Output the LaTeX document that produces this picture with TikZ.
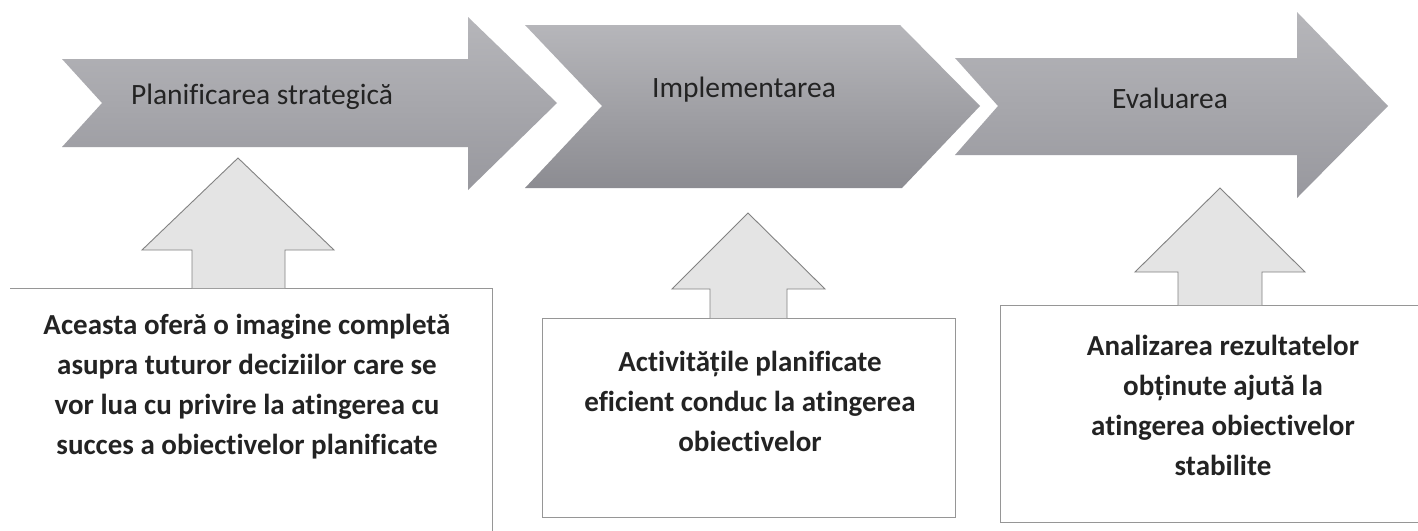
\documentclass[tikz,border=0pt]{standalone}
\usepackage{fontspec}
\setmainfont{Carlito}[RawFeature={-liga;-clig;-calt;-dlig}]
\definecolor{arrtop}{RGB}{182,182,186}
\definecolor{arrbot}{RGB}{152,152,158}
\definecolor{upfill}{RGB}{228,228,228}
\definecolor{upline}{RGB}{130,130,130}
\definecolor{boxline}{RGB}{150,150,150}
\definecolor{txt}{RGB}{35,35,35}
\tikzset{
  bigarrow/.style={top color=arrtop, bottom color=arrbot, draw=none},
  uparrow/.style={fill=upfill, draw=upline, line width=0.9pt, line join=miter},
  boxedge/.style={draw=boxline, line width=1pt},
  title/.style={font=\fontsize{29.5}{34}\selectfont, text=txt, inner sep=0pt},
  desc/.style={font=\bfseries\fontsize{29}{40}\selectfont, text=txt, align=center, inner sep=0pt}
}
\begin{document}
\begin{tikzpicture}[x=1pt,y=-1pt]
\useasboundingbox (0,0) rectangle (1418,530);
\clip (0,0) rectangle (1418,530);
\fill[white] (0,0) rectangle (1418,530);

% top process arrows
\path[bigarrow] (62,59) -- (468,59) -- (468,17) -- (557,103) -- (468,190) -- (468,147) -- (62,147) -- (102,103) -- cycle;
\path[bigarrow, bottom color=arrbot!92!black] (525,25) -- (900,25) -- (980,106) -- (902,188) -- (525,188) -- (602,106) -- cycle;
\path[bigarrow] (955,58) -- (1297,58) -- (1297,12) -- (1388,106) -- (1297,198) -- (1297,155) -- (955,155) -- (998,106) -- cycle;

\node[title] (t1) at (262,97) {Planificarea strategică};
\node[title] (t2) at (744,90) {Implementarea};
\node[title] (t3) at (1170,98) {Evaluarea};

% description boxes
\path[boxedge] (10,288) -- (492,288) -- (492,531);
\path[boxedge, fill=white] (542,318) rectangle (955,517);
\path[boxedge] (1420,305) -- (1000,305) -- (1000,522) -- (1420,522);

% up arrows
\path[uparrow] (192,288) -- (192,250) -- (142,250) -- (238,158) -- (334,250) -- (285,250) -- (285,288);
\path[uparrow] (710,318) -- (710,289) -- (672,289) -- (748,213) -- (825,289) -- (787,289) -- (787,318);
\path[uparrow] (1178,305) -- (1178,272) -- (1135,272) -- (1220,188) -- (1305,272) -- (1262,272) -- (1262,305);

\node[desc] (d1) at (247,387) {Aceasta oferă o imagine completă\\asupra tuturor deciziilor care se\\vor lua cu privire la atingerea cu\\succes a obiectivelor planificate};
\node[desc] (d2) at (750,401) {Activitățile planificate\\eficient conduc la atingerea\\obiectivelor};
\node[desc] (d3) at (1223,405) {Analizarea rezultatelor\\obținute ajută la\\atingerea obiectivelor\\stabilite};
\end{tikzpicture}
\end{document}
